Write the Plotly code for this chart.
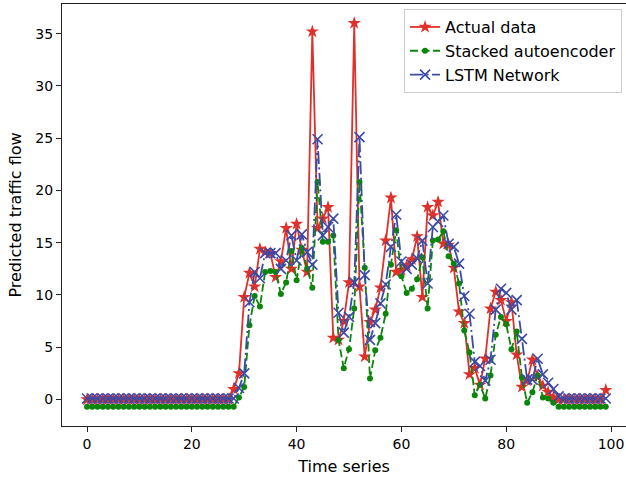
import plotly.graph_objects as go

# Time step index of each sample
time_steps = list(range(100))

# Observed traffic flow
actual_data = [
    0, 0, 0, 0, 0, 0, 0, 0, 0, 0,
    0, 0, 0, 0, 0, 0, 0, 0, 0, 0,
    0, 0, 0, 0, 0, 0, 0, 0, 1.0, 2.5,
    9.8, 12.1, 10.8, 14.4, 14.1, 14.0, 11.7, 13.2, 16.4, 12.5,
    16.8, 14.3, 12.2, 35.2, 16.4, 17.3, 18.4, 5.9, 5.7, 7.5,
    11.2, 36.0, 10.8, 4.1, 7.4, 8.6, 10.7, 15.2, 19.3, 12.2,
    12.4, 12.8, 13.4, 15.6, 9.8, 18.4, 17.6, 18.9, 14.9, 14.8,
    12.6, 8.4, 7.3, 2.4, 3.0, 1.4, 3.9, 8.7, 10.3, 9.5,
    7.5, 9.3, 4.3, 1.2, 1.8, 3.8, 2.2, 1.3, 0.7, 0.2,
    0, 0, 0, 0, 0, 0, 0, 0, 0, 0.9,
]

# Stacked autoencoder prediction
stacked_autoencoder = [
    -0.7, -0.7, -0.7, -0.7, -0.7, -0.7, -0.7, -0.7, -0.7, -0.7,
    -0.7, -0.7, -0.7, -0.7, -0.7, -0.7, -0.7, -0.7, -0.7, -0.7,
    -0.7, -0.7, -0.7, -0.7, -0.7, -0.7, -0.7, -0.7, -0.7, 0.2,
    1.2, 7.1, 9.9, 8.9, 12.2, 12.3, 12.2, 10.1, 11.2, 14.2,
    11.4, 14.5, 12.5, 10.7, 20.8, 15.1, 15.1, 15.7, 5.7, 3.0,
    4.8, 8.7, 20.8, 12.6, 2.0, 4.7, 5.9, 8.2, 12.9, 16.2,
    11.8, 10.2, 10.6, 11.5, 13.6, 8.7, 15.2, 15.3, 16.1, 13.7,
    13.0, 11.1, 6.6, 4.5, 0.4, 1.4, 0.1, 2.3, 6.2, 7.9,
    7.2, 4.8, 6.5, 2.1, -0.3, 0.7, 2.3, 0.2, 0.1, -0.3,
    -0.7, -0.7, -0.7, -0.7, -0.7, -0.7, -0.7, -0.7, -0.7, -0.7,
]

# LSTM network prediction
lstm_network = [
    0.1, 0.1, 0.1, 0.1, 0.1, 0.1, 0.1, 0.1, 0.1, 0.1,
    0.1, 0.1, 0.1, 0.1, 0.1, 0.1, 0.1, 0.1, 0.1, 0.1,
    0.1, 0.1, 0.1, 0.1, 0.1, 0.1, 0.1, 0.1, 0.1, 1.1,
    2.5, 9.3, 12.2, 11.6, 14.0, 14.0, 14.0, 12.5, 13.3, 15.7,
    13.3, 15.8, 14.1, 12.9, 24.9, 15.7, 16.5, 17.3, 8.3, 6.4,
    7.9, 11.2, 25.1, 11.9, 5.7, 7.3, 9.2, 11.0, 14.6, 17.7,
    13.2, 12.5, 12.9, 13.5, 15.2, 11.1, 16.5, 17.0, 17.6, 14.9,
    14.6, 13.0, 9.9, 8.2, 3.6, 3.2, 1.8, 3.8, 8.6, 10.6,
    10.2, 8.6, 9.5, 5.8, 1.9, 1.9, 3.9, 2.4, 1.6, 1.0,
    0.3, 0.1, 0.1, 0.1, 0.1, 0.1, 0.1, 0.1, 0.1, 0.1,
]

x_ticks = [0, 20, 40, 60, 80, 100]
y_ticks = [0, 5, 10, 15, 20, 25, 30, 35]

RED = "#e0302a"
GREEN = "#0a860a"
BLUE = "#3a4aa6"
FONT = "DejaVu Sans"

fig = go.Figure()

fig.add_trace(go.Scatter(
    x=time_steps, y=actual_data, mode="lines+markers", name="Actual data",
    legendgroup="a",
    line=dict(color=RED, width=1.8),
    marker=dict(symbol="star", size=10, color=RED, line=dict(width=0)),
))
fig.add_trace(go.Scatter(
    x=time_steps, y=stacked_autoencoder, mode="lines+markers",
    name="Stacked autoencoder", legendgroup="b",
    line=dict(color=GREEN, width=1.8, dash="8px,3.5px"),
    marker=dict(symbol="circle", size=6, color=GREEN, line=dict(width=0)),
))
fig.add_trace(go.Scatter(
    x=time_steps, y=lstm_network, mode="lines+markers", name="LSTM Network",
    legendgroup="c",
    line=dict(color=BLUE, width=1.8, dash="13px,3.5px,2px,3.5px"),
    marker=dict(symbol="x-thin", size=10, color=BLUE,
                line=dict(width=1.6, color=BLUE)),
))

fig.update_layout(
    width=626, height=477,
    margin=dict(l=62, r=0, t=4, b=51),
    plot_bgcolor="white", paper_bgcolor="white",
    font=dict(family=FONT, size=14, color="#000000"),
    showlegend=True,
    legend=dict(
        x=0.993, y=0.988, xanchor="right", yanchor="top",
        bgcolor="rgba(255,255,255,0.8)", bordercolor="#cccccc", borderwidth=1,
        font=dict(family=FONT, size=16, color="#000000"),
        tracegroupgap=0, itemwidth=30,
    ),
)

fig.update_xaxes(
    range=[-4.77, 102.86], tickvals=x_ticks,
    showgrid=False, zeroline=False,
    showline=True, mirror=True, linecolor="#222222", linewidth=1.1,
    ticks="outside", ticklen=5, tickwidth=1.1, tickcolor="#222222",
    title=dict(text="Time series", font=dict(size=16), standoff=9),
)
fig.update_yaxes(
    range=[-2.535, 37.835], tickvals=y_ticks,
    showgrid=False, zeroline=False,
    showline=True, mirror=False, linecolor="#222222", linewidth=1.1,
    ticks="outside", ticklen=5, tickwidth=1.1, tickcolor="#222222",
    title=dict(text="Predicted traffic flow", font=dict(size=16), standoff=9),
)

fig.write_html("out.html")
